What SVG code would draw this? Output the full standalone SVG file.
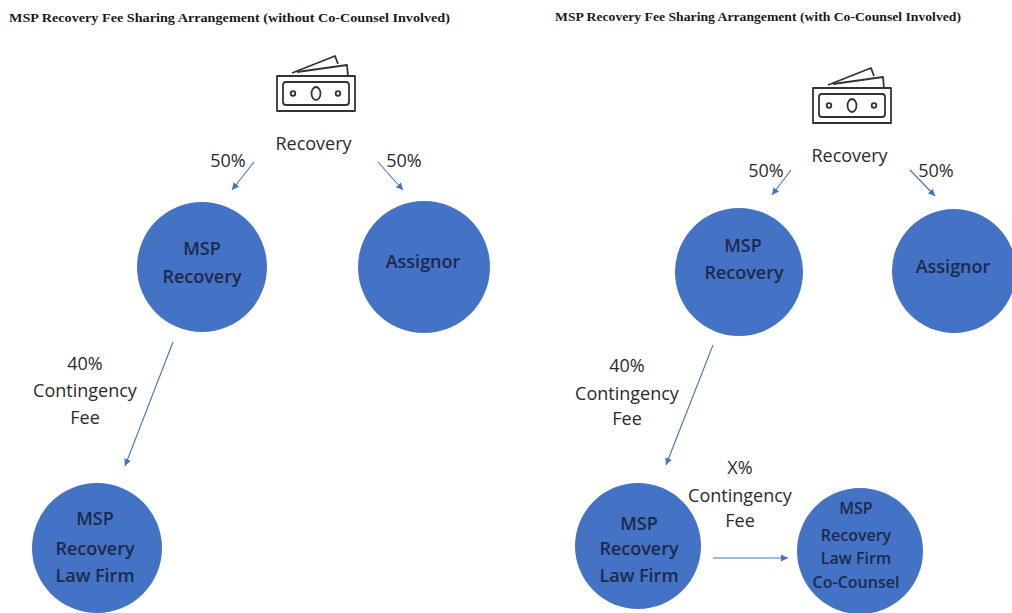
<svg xmlns="http://www.w3.org/2000/svg" width="1012" height="613" viewBox="0 0 1012 613">
<style>
.title{font-family:"Liberation Serif","Times New Roman",serif;font-weight:bold;font-size:12.5px;fill:#1a1a1a}
.lbl{font-family:"Open Sans","Noto Sans",sans-serif;font-size:18px;fill:#2b2b2b;text-anchor:middle}
.node{fill:#4472C4}
.nt{font-family:"Open Sans","Noto Sans",sans-serif;font-size:18px;font-weight:600;fill:#1c2a4d;text-anchor:middle}
.nt16{font-size:16px}
.conn{stroke:#4472C4;stroke-width:1.1;fill:none;marker-end:url(#ah)}
.icon{fill:none;stroke:#333;stroke-width:1.8;stroke-linejoin:round}
</style>
<defs>
<marker id="ah" markerUnits="userSpaceOnUse" markerWidth="8" markerHeight="7" refX="7" refY="3.5" orient="auto">
<path d="M0,0 L7,3.5 L0,7 z" fill="#4472C4"/>
</marker>
<g id="money">
<path class="icon" d="M292,73 L335,56 L338,64"/>
<path class="icon" d="M297,72 L347,65 L348,76"/>
<rect class="icon" x="277" y="76" width="78" height="35"/>
<rect class="icon" x="283" y="82" width="66" height="23" rx="3"/>
<circle class="icon" cx="293" cy="93.5" r="2.3"/>
<ellipse class="icon" cx="316" cy="93.5" rx="4.5" ry="6.5"/>
<circle class="icon" cx="338" cy="93.5" r="2.3"/>
</g>
</defs>
<rect width="1012" height="613" fill="#fff"/>

<text class="title" x="9" y="22" textLength="441" lengthAdjust="spacingAndGlyphs">MSP Recovery Fee Sharing Arrangement (without Co-Counsel Involved)</text>
<text class="title" x="555" y="21" textLength="406" lengthAdjust="spacingAndGlyphs">MSP Recovery Fee Sharing Arrangement (with Co-Counsel Involved)</text>

<g id="recovery-left">
<use href="#money"/>
<text class="lbl" x="313.5" y="150">Recovery</text>
</g>
<g id="recovery-right">
<use href="#money" transform="translate(536,12)"/>
<text class="lbl" x="849.5" y="162">Recovery</text>
</g>

<g id="connectors">
<line class="conn" x1="254" y1="162" x2="232" y2="190"/>
<line class="conn" x1="378" y1="162" x2="403" y2="190"/>
<line class="conn" x1="173" y1="342" x2="125" y2="466"/>
<line class="conn" x1="791" y1="170" x2="772" y2="195"/>
<line class="conn" x1="910" y1="170" x2="935" y2="196"/>
<line class="conn" x1="713" y1="345" x2="666" y2="465"/>
<line class="conn" x1="713" y1="558" x2="788" y2="558"/>
</g>

<g id="labels">
<text class="lbl" x="228" y="167">50%</text>
<text class="lbl" x="404" y="167">50%</text>
<text class="lbl" x="85" y="370">40%</text>
<text class="lbl" x="85" y="397">Contingency</text>
<text class="lbl" x="85" y="424">Fee</text>
<text class="lbl" x="766" y="177">50%</text>
<text class="lbl" x="936" y="177">50%</text>
<text class="lbl" x="627" y="372">40%</text>
<text class="lbl" x="627" y="400">Contingency</text>
<text class="lbl" x="627" y="425">Fee</text>
<text class="lbl" x="740" y="474">X%</text>
<text class="lbl" x="740" y="502">Contingency</text>
<text class="lbl" x="740" y="527">Fee</text>
</g>

<g id="msp-recovery-left">
<circle class="node" cx="202" cy="267" r="65"/>
<text class="nt" x="202" y="254.5">MSP</text>
<text class="nt" x="202" y="283">Recovery</text>
</g>
<g id="assignor-left">
<circle class="node" cx="424" cy="267" r="66"/>
<text class="nt" x="423" y="268">Assignor</text>
</g>
<g id="law-firm-left">
<circle class="node" cx="97" cy="548" r="65"/>
<text class="nt" x="95" y="524.5">MSP</text>
<text class="nt" x="95" y="554.5">Recovery</text>
<text class="nt" x="95" y="581.5">Law Firm</text>
</g>

<g id="msp-recovery-right">
<circle class="node" cx="739" cy="272" r="64"/>
<text class="nt" x="743" y="251.5">MSP</text>
<text class="nt" x="744" y="278.5">Recovery</text>
</g>
<g id="assignor-right">
<circle class="node" cx="954" cy="271" r="62"/>
<text class="nt" x="953" y="273">Assignor</text>
</g>
<g id="law-firm-right">
<circle class="node" cx="638" cy="546" r="63"/>
<text class="nt" x="639" y="529.5">MSP</text>
<text class="nt" x="639" y="554.5">Recovery</text>
<text class="nt" x="639" y="581.5">Law Firm</text>
</g>
<g id="co-counsel">
<circle class="node" cx="860" cy="551" r="63"/>
<text class="nt nt16" x="856" y="514">MSP</text>
<text class="nt nt16" x="856" y="541">Recovery</text>
<text class="nt nt16" x="856" y="564">Law Firm</text>
<text class="nt nt16" x="856" y="588">Co-Counsel</text>
</g>
</svg>
